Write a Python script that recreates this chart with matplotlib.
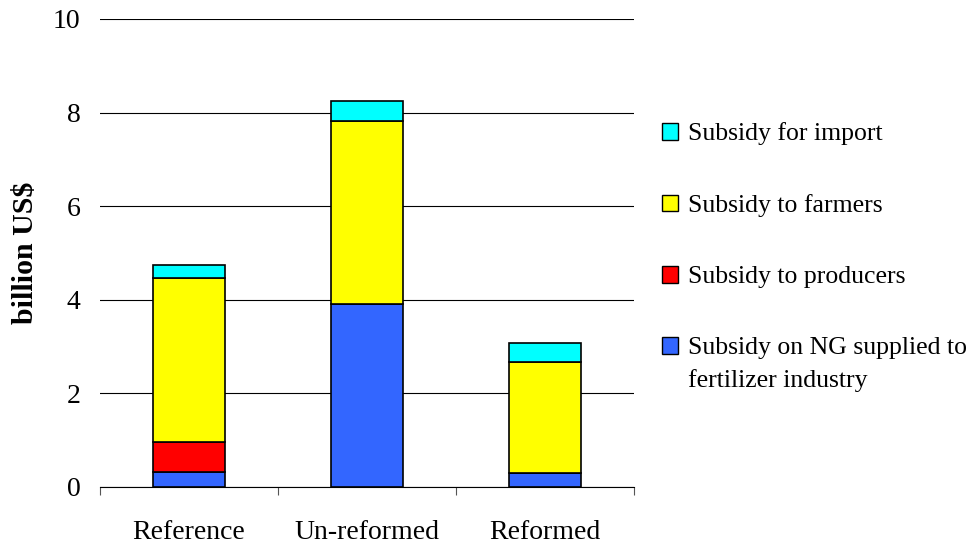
import matplotlib
matplotlib.use("Agg")
import matplotlib.pyplot as plt
from matplotlib.patches import Patch
import numpy as np

categories = ["Reference", "Un-reformed", "Reformed"]
ng_supply = [0.31, 3.91, 0.30]
producers = [0.66, 0.00, 0.00]
farmers = [3.50, 3.91, 2.38]
imports = [0.28, 0.42, 0.39]

series = [
    ("Subsidy on NG supplied to", ng_supply, "#3366FF"),
    ("Subsidy to producers", producers, "#FF0000"),
    ("Subsidy to farmers", farmers, "#FFFF00"),
    ("Subsidy for import", imports, "#00FFFF"),
]
ng_label_cont = "fertilizer industry"

plt.rcParams["font.family"] = ["Liberation Serif", "DejaVu Serif"]

fig = plt.figure(figsize=(9.71, 5.46), dpi=100)
ax = fig.add_axes([100 / 971, 1 - 487 / 546, 534 / 971, 468 / 546])

x = np.arange(len(categories))
bottom = np.zeros(len(categories))
for label, vals, color in series:
    vals = np.array(vals)
    ax.bar(x, vals, width=0.40, bottom=bottom, color=color,
           edgecolor="black", linewidth=1.2, zorder=3)
    bottom += vals

ax.set_xlim(-0.5, len(categories) - 0.5)
ax.set_ylim(0, 10)
ax.set_yticks([0, 2, 4, 6, 8, 10])
ax.yaxis.grid(True, color="black", linewidth=0.8, zorder=0)
ax.set_axisbelow(True)

ax.set_xticks(x)
ax.set_xticklabels(categories, fontsize=20)
ax.set_xticks(np.arange(len(categories) + 1) - 0.5, minor=True)
ax.tick_params(axis="x", which="major", length=0, pad=24)
ax.tick_params(axis="x", which="minor", length=6, width=0.8, direction="out",
               color="#555555")
ax.tick_params(axis="y", length=0, labelsize=20, pad=14)

for s in ("top", "right", "left"):
    ax.spines[s].set_visible(False)
ax.spines["bottom"].set_linewidth(0.8)

ax.set_ylabel("billion US$", fontsize=21.5, fontweight="bold", labelpad=10)

legend_fs = 18.5
handles = [Patch(facecolor=c, edgecolor="black", linewidth=1.0, label=l)
           for l, _, c in series][::-1]
leg = fig.legend(handles=handles, loc="upper left",
                 bbox_to_anchor=(652 / 971, 1 - 112 / 546),
                 frameon=False, fontsize=legend_fs, labelspacing=1.9,
                 handlelength=0.62, handleheight=0.62, handletextpad=0.4,
                 borderaxespad=0)

# second line of the last legend entry, set under its first line
fig.canvas.draw()
last = leg.get_texts()[-1]
bb = last.get_window_extent()
fig.text(bb.x0 / 971, (bb.y0 + bb.y1) / 2 / 546 - 32 / 546, ng_label_cont,
         fontsize=legend_fs, ha="left", va="center")

fig.savefig("out.png", dpi=100)
